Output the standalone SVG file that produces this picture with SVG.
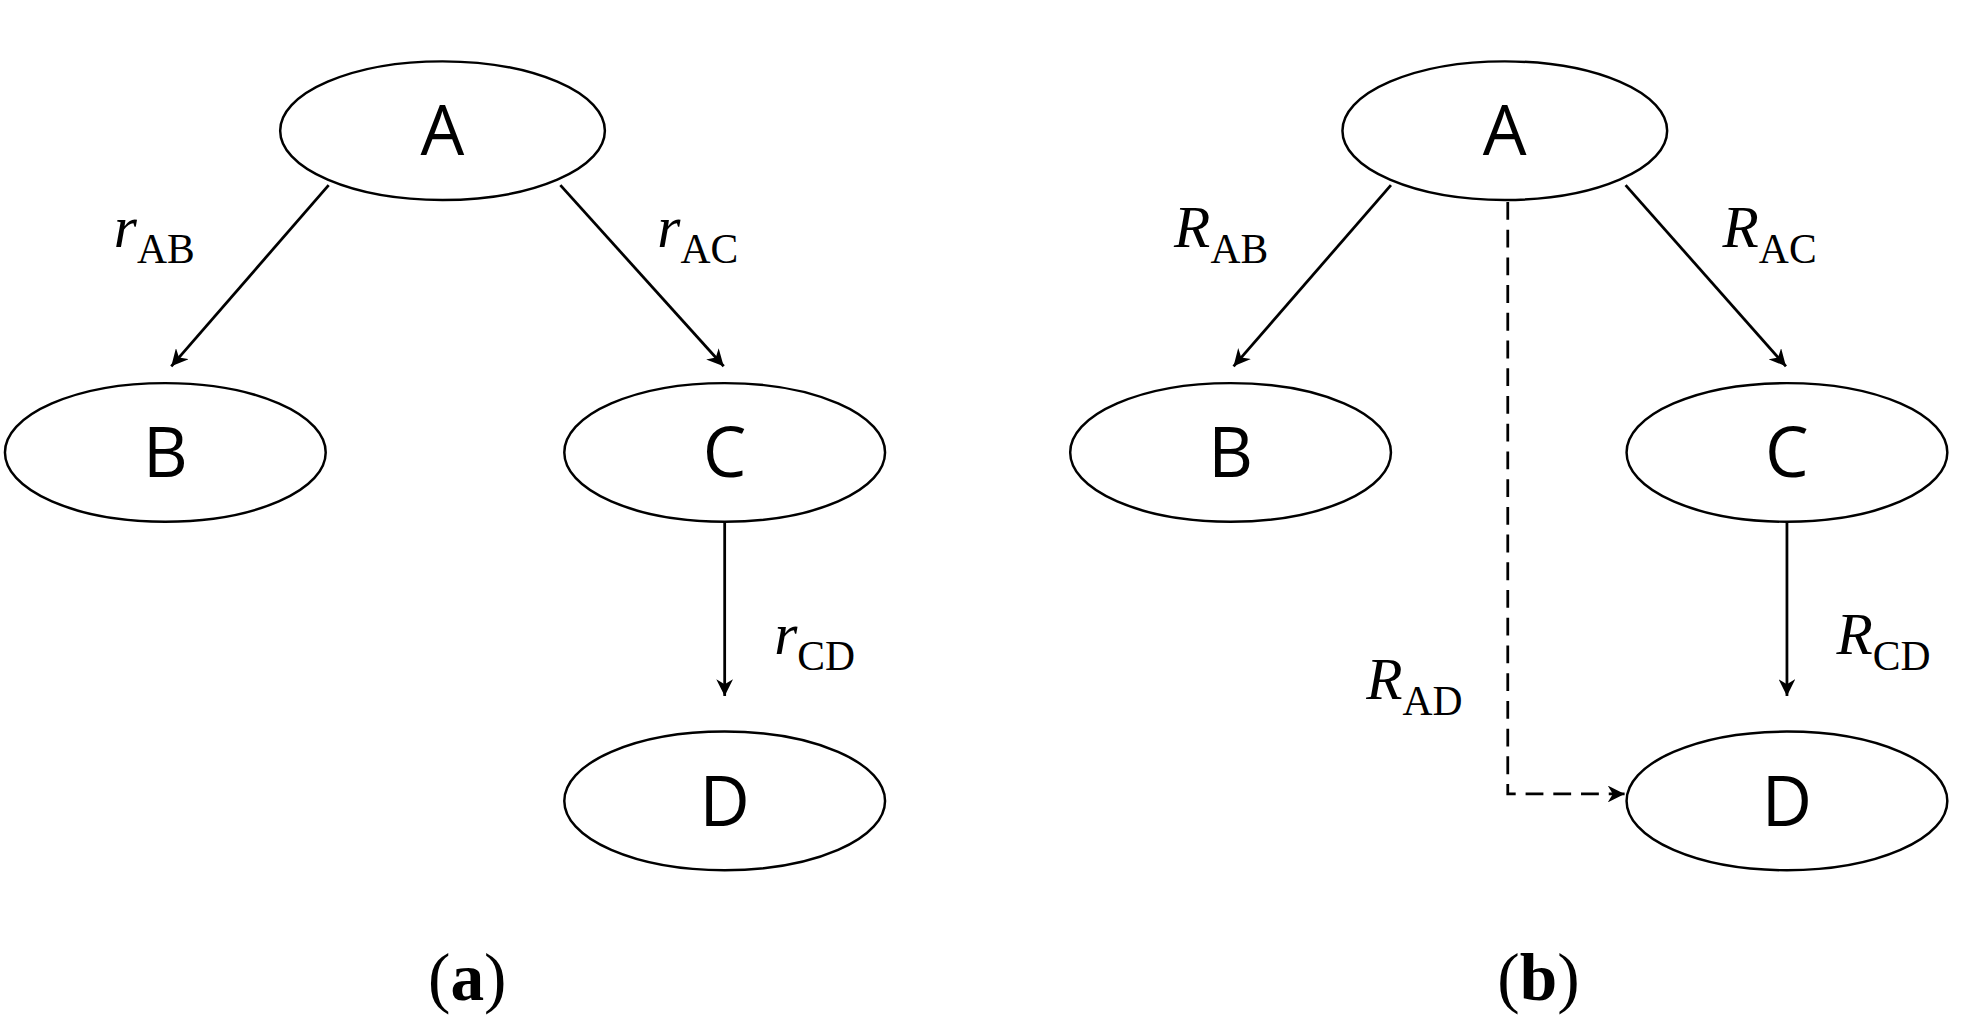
<svg xmlns="http://www.w3.org/2000/svg" width="1983" height="1036" viewBox="0 0 1983 1036">
<defs>
<marker id="ah" viewBox="0 0 10 10" refX="10" refY="5" markerWidth="17" markerHeight="17" markerUnits="userSpaceOnUse" orient="auto"><path d="M0,0 L10,5 L0,10 L3,5 Z" fill="#000"/></marker>
<style>
ellipse{fill:#fff;stroke:#000;stroke-width:2.5}
.n{font-family:"Open Sans","DejaVu Sans",sans-serif;font-size:70px;text-anchor:middle}
.l{font-family:"Liberation Serif",serif;font-size:60px;font-style:italic}
.s{font-size:42px;font-style:normal}
.c{font-family:"Liberation Serif",serif;font-size:68px;text-anchor:middle}
.e{stroke:#000;stroke-width:2.8;fill:none;marker-end:url(#ah)}
</style>
</defs>
<rect width="1983" height="1036" fill="#fff"/>
<g transform="scale(0.99)">
<g id="connectors">
<line class="e" x1="332" y1="187" x2="173" y2="370"/>
<line class="e" x1="566" y1="187" x2="731" y2="370"/>
<line class="e" x1="732" y1="527" x2="732" y2="703"/>
<line class="e" x1="1405" y1="187" x2="1246" y2="370"/>
<line class="e" x1="1642" y1="187" x2="1804" y2="370"/>
<line class="e" x1="1805" y1="527" x2="1805" y2="703"/>
<path class="e" d="M1523,204 V802 H1641" stroke-dasharray="18,10"/>
</g>
<g id="A1"><ellipse cx="447" cy="132" rx="164" ry="70"/><text class="n" x="447" y="157">A</text></g>
<g id="B1"><ellipse cx="167" cy="457" rx="162" ry="70"/><text class="n" x="167" y="482">B</text></g>
<g id="C1"><ellipse cx="732" cy="457" rx="162" ry="70"/><text class="n" x="732" y="482">C</text></g>
<g id="D1"><ellipse cx="732" cy="809" rx="162" ry="70"/><text class="n" x="732" y="834">D</text></g>
<g id="A2"><ellipse cx="1520" cy="132" rx="164" ry="70"/><text class="n" x="1520" y="157">A</text></g>
<g id="B2"><ellipse cx="1243" cy="457" rx="162" ry="70"/><text class="n" x="1243" y="482">B</text></g>
<g id="C2"><ellipse cx="1805" cy="457" rx="162" ry="70"/><text class="n" x="1805" y="482">C</text></g>
<g id="D2"><ellipse cx="1805" cy="809" rx="162" ry="70"/><text class="n" x="1805" y="834">D</text></g>
<g id="labels">
<text class="l" x="115" y="250">r<tspan class="s" dy="16">AB</tspan></text>
<text class="l" x="664" y="250">r<tspan class="s" dy="16">AC</tspan></text>
<text class="l" x="782" y="661">r<tspan class="s" dy="16">CD</tspan></text>
<text class="l" x="1186" y="250">R<tspan class="s" dy="16">AB</tspan></text>
<text class="l" x="1740" y="250">R<tspan class="s" dy="16">AC</tspan></text>
<text class="l" x="1855" y="661">R<tspan class="s" dy="16">CD</tspan></text>
<text class="l" x="1380" y="706">R<tspan class="s" dy="16">AD</tspan></text>
<text class="c" x="472" y="1010">(<tspan font-weight="bold">a</tspan>)</text>
<text class="c" x="1554" y="1010">(<tspan font-weight="bold">b</tspan>)</text>
</g>
</g>
</svg>
